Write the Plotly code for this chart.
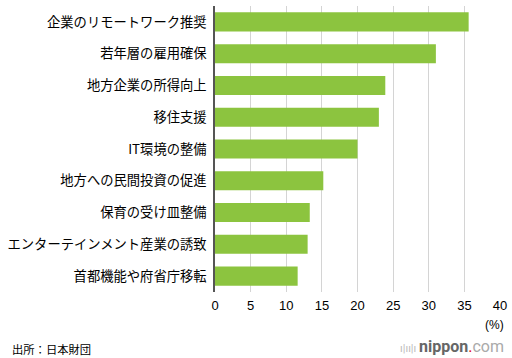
import plotly.graph_objects as go

categories = [
    "企業のリモートワーク推奨",
    "若年層の雇用確保",
    "地方企業の所得向上",
    "移住支援",
    "IT環境の整備",
    "地方への民間投資の促進",
    "保育の受け皿整備",
    "エンターテインメント産業の誘致",
    "首都機能や府省庁移転",
]
values = [35.6, 31.0, 23.9, 23.0, 20.0, 15.2, 13.3, 13.0, 11.6]
tick_vals = [0, 5, 10, 15, 20, 25, 30, 35, 40]

FONT = "Noto Sans CJK JP, Noto Sans, sans-serif"
NUMFONT = "Liberation Sans, Arial, sans-serif"

fig = go.Figure(go.Bar(
    x=values, y=categories, orientation="h",
    marker=dict(color="#8cc43f", line=dict(width=0)),
    hoverinfo="skip",
))

fig.update_layout(
    width=512, height=358,
    margin=dict(l=215, r=12, t=6, b=66, autoexpand=False),
    paper_bgcolor="white", plot_bgcolor="white",
    font=dict(family=FONT, size=13, color="#000000"),
    bargap=0.4,
    showlegend=False,
    xaxis=dict(
        range=[0, 40], tickvals=tick_vals, ticktext=[str(v) for v in tick_vals],
        showgrid=True, gridcolor="#d4d4d4", gridwidth=1,
        zeroline=False, showline=False, ticks="", automargin=False,
        ticklabelstandoff=4,
        tickfont=dict(family=NUMFONT, size=13, color="#000000"),
        fixedrange=True,
    ),
    yaxis=dict(
        autorange="reversed", showgrid=False, zeroline=False,
        showline=True, linecolor="#555555", linewidth=1.5,
        ticks="", ticklabelstandoff=4, automargin=False,
        tickfont=dict(size=13.3, color="#000000"),
        fixedrange=True,
    ),
    annotations=[
        dict(text="(%)", xref="paper", yref="paper", x=1.022, y=-0.084,
             xanchor="right", yanchor="top", showarrow=False,
             font=dict(family=NUMFONT, size=12, color="#000000")),
        dict(text="出所：日本財団", xref="paper", yref="paper",
             x=-205/285, y=-0.165, xanchor="left", yanchor="top",
             showarrow=False, font=dict(size=11.3, color="#000000")),
        dict(text="<span style='color:#bbbbbb;font-size:11px'>ı|ıı|ı </span>"
                  "<b>nippon</b><span style='color:#e60012'>.</span>"
                  "<span style='color:#aaaaaa'>com</span>",
             xref="paper", yref="paper", x=1.022, y=-0.152,
             xanchor="right", yanchor="top", showarrow=False,
             font=dict(family="Roboto, Noto Sans, sans-serif", size=16, color="#666666")),
    ],
)

fig.write_html("out.html", config={"displayModeBar": False},
               post_script="document.body.style.margin='0';")
